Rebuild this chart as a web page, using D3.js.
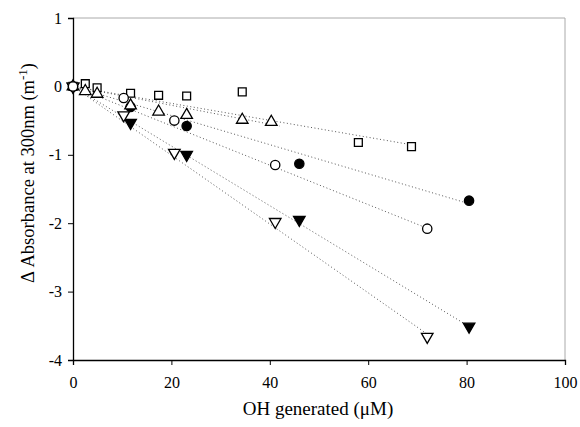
<!DOCTYPE html>
<html>
<head>
<meta charset="utf-8">
<script src="https://cdn.jsdelivr.net/npm/d3@7"></script>
<style>
  body { margin: 0; background: #fff; }
  text { font-family: "Liberation Serif", "Times New Roman", serif; fill: #000; }
</style>
</head>
<body>
<svg id="chart" width="580" height="427"></svg>
<script>
// values
var xTicks = [0, 20, 40, 60, 80, 100];
var yTicks = [1, 0, -1, -2, -3, -4];

var squareX = [0, 2.5, 4.9, 11.7, 17.4, 23.1, 34.4, 58.0, 68.8];
var squareY = [0, 0.04, -0.02, -0.10, -0.13, -0.14, -0.08, -0.82, -0.88];

var triUpX = [0, 2.5, 4.9, 11.7, 17.4, 23.1, 34.4, 40.3];
var triUpY = [0, -0.07, -0.11, -0.28, -0.37, -0.42, -0.49, -0.52];

var dotX = [0, 11.7, 23.1, 46.0, 80.5];
var dotY = [0, -0.30, -0.58, -1.13, -1.67];

var circleX = [0, 10.3, 20.6, 41.1, 72.0];
var circleY = [0, -0.17, -0.50, -1.15, -2.08];

var triDownX = [0, 10.3, 20.6, 41.1, 72.0];
var triDownY = [0, -0.42, -0.97, -1.98, -3.66];

var triDownFillX = [0, 11.7, 23.1, 46.0, 80.5];
var triDownFillY = [0, -0.53, -1.00, -1.95, -3.51];

// dotted fit lines through the origin: slope and last x
var fitSlope = [-0.0124, -0.0138, -0.0213, -0.0288, -0.0503, -0.0436];
var fitEnd = [68.8, 42.0, 80.5, 72.0, 72.0, 80.5];

// drawn in this order, so the open circle sits on top at the origin
var seriesList = [
    { x: triDownFillX, y: triDownFillY, shape: "down", fill: "#000" },
    { x: dotX, y: dotY, shape: "circle", fill: "#000" },
    { x: squareX, y: squareY, shape: "square", fill: "#fff" },
    { x: triUpX, y: triUpY, shape: "up", fill: "#fff" },
    { x: triDownX, y: triDownY, shape: "down", fill: "#fff" },
    { x: circleX, y: circleY, shape: "circle", fill: "#fff" }
];

var svg = d3.select("#chart");
var plotLeft = 73, plotTop = 18, plotRight = 565, plotBottom = 360;

var x = d3.scaleLinear().domain([0, 100]).range([plotLeft, plotRight]);
var y = d3.scaleLinear().domain([-4, 1]).range([plotBottom, plotTop]);

// faint frame on top and right
svg.append("path")
    .attr("d", "M" + plotLeft + "," + plotTop + "H" + plotRight + "V" + plotBottom)
    .attr("fill", "none").attr("stroke", "#aaa").attr("stroke-width", 1);

var xAxis = svg.append("g")
    .attr("transform", "translate(0," + plotBottom + ")")
    .call(d3.axisBottom(x).tickValues(xTicks).tickSize(5).tickPadding(12).tickFormat(d3.format("d")));
var yAxis = svg.append("g")
    .attr("transform", "translate(" + plotLeft + ",0)")
    .call(d3.axisLeft(y).tickValues(yTicks).tickSize(5).tickPadding(6).tickFormat(d3.format("d")));

[xAxis, yAxis].forEach(function(g) {
    g.select(".domain").attr("stroke", "#000").attr("stroke-width", 1.3);
    g.selectAll(".tick line").attr("stroke", "#000");
    g.selectAll(".tick text").style("font-family", "Liberation Serif").style("font-size", "16px");
});
// plain hyphen minus like the original
yAxis.selectAll(".tick text").text(function(d) { return String(d).replace("\u2212", "-"); });

// fit lines
fitSlope.forEach(function(s, i) {
    svg.append("line")
        .attr("x1", x(0)).attr("y1", y(0))
        .attr("x2", x(fitEnd[i])).attr("y2", y(s * fitEnd[i]))
        .attr("stroke", "#555").attr("stroke-width", 1)
        .attr("stroke-dasharray", "1,2.5");
});

var symbolFor = {
    square: d3.symbol().type(d3.symbolSquare).size(62),
    circle: d3.symbol().type(d3.symbolCircle).size(68),
    up: d3.symbol().type(d3.symbolTriangle).size(58),
    down: d3.symbol().type(d3.symbolTriangle).size(58)
};

seriesList.forEach(function(s) {
    var pts = s.x.map(function(v, i) { return [v, s.y[i]]; });
    svg.append("g").selectAll("path")
        .data(pts)
        .enter().append("path")
        .attr("d", symbolFor[s.shape])
        .attr("transform", function(d) {
            return "translate(" + x(d[0]) + "," + y(d[1]) + ")" + (s.shape == "down" ? " rotate(180)" : "");
        })
        .attr("fill", s.fill)
        .attr("stroke", "#000")
        .attr("stroke-width", 1.3);
});

svg.append("text")
    .attr("x", 318).attr("y", 415)
    .attr("text-anchor", "middle")
    .style("font-size", "19px")
    .text("OH generated (\u03bcM)");

var yLabel = svg.append("text")
    .attr("transform", "translate(34,173) rotate(-90)")
    .attr("text-anchor", "middle")
    .style("font-size", "18.5px");
yLabel.append("tspan").text("\u0394 Absorbance at 300nm (m");
yLabel.append("tspan").attr("dy", -7).style("font-size", "13px").text("-1");
yLabel.append("tspan").attr("dy", 7).text(")");
</script>
</body>
</html>
